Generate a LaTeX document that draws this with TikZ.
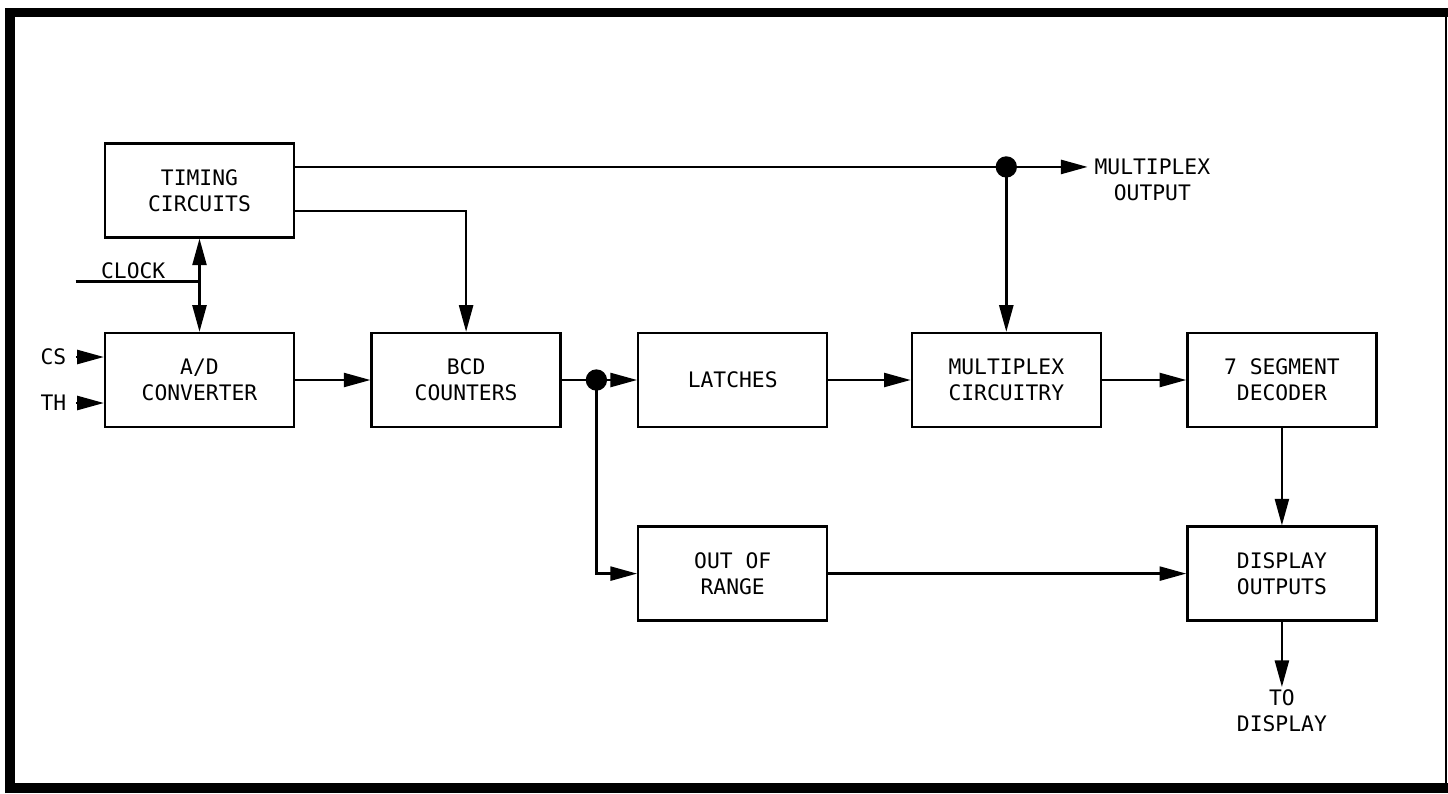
\documentclass[tikz,border=0pt]{standalone}
\usepackage{fontspec}
\newfontfamily\blokfont{DejaVu Sans Mono}
\usetikzlibrary{positioning,arrows.meta,calc}

\begin{document}
\begin{tikzpicture}[
  x=0.75pt, y=-0.75pt,
  font=\blokfont\fontsize{16}{19.5}\selectfont,
  node distance=70pt and 58pt,
  blok/.style={rectangle, draw, line width=1.7pt, minimum width=141.75pt, minimum height=70.5pt, align=center, inner sep=2pt},
  etiq/.style={inner sep=2pt, align=center},
  punto/.style={circle, fill, inner sep=0pt, minimum size=16pt},
  linea/.style={line width=1.8pt},
  flecha/.style={-{Triangle[length=20pt,width=10.5pt]}, line width=1.8pt},
  flechas/.style={{Triangle[length=20pt,width=10.5pt]}-{Triangle[length=20pt,width=10.5pt]}, line width=1.8pt}
]
\useasboundingbox (0,0) rectangle (1448,793);
% marco
\draw[line width=7.5pt] (10,793) -- (10,8);
\draw[line width=7pt] (5,12.5) -- (1448,12.5);
\draw[line width=7.5pt] (5,788) -- (1448,788);
\draw[line width=2.2pt] (1446,8) -- (1446,793);
% bloques
\node[blok] (adc) at (199.5,380) {A/D\\CONVERTER};
\node[blok, above=of adc] (tim) {TIMING\\CIRCUITS};
\node[blok, right=56.5pt of adc] (bcd) {BCD\\COUNTERS};
\node[blok, right=56.5pt of bcd] (latch) {LATCHES};
\node[blok, right=61.75pt of latch] (mux) {MULTIPLEX\\CIRCUITRY};
\node[blok, right=63.25pt of mux] (seg) {7 SEGMENT\\DECODER};
\node[blok, below=73pt of latch] (oor) {OUT OF\\RANGE};
\node[blok, below=73pt of seg] (disp) {DISPLAY\\OUTPUTS};
% puntos de union
\coordinate[right=26pt of bcd] (jn1);
\coordinate (t1) at ([yshift=17.6pt]tim.east);
\coordinate (t2) at ([yshift=-15.4pt]tim.east);
\coordinate (jn2) at (t1 -| mux.north);
\coordinate (clk) at ($(tim.south)!0.46!(adc.north)$);
\coordinate[left=93pt of clk] (clkin);
% etiquetas
\node[etiq, anchor=north west, inner xsep=5pt] (mpxout) at ([xshift=61pt,yshift=8pt]jn2) {MULTIPLEX\\OUTPUT};
\node[etiq, below=49pt of disp] (todisp) {TO\\DISPLAY};
\node[etiq, anchor=south west] (clklbl) at ([xshift=17pt,yshift=-0.5pt]clkin) {CLOCK};
\node[etiq, anchor=east, inner xsep=7pt] (cs) at ([xshift=-21pt,yshift=17.25pt]adc.west) {CS};
\node[etiq, anchor=east, inner xsep=7pt] (th) at ([xshift=-21pt,yshift=-17.25pt]adc.west) {TH};
% conexiones
\draw[linea] (t1) -- (jn2);
\draw[flecha] (jn2) -- (jn2 -| mpxout.west);
\draw[flecha] (jn2) -- (mux);
\draw[flecha] (t2) -| (bcd);
\draw[flechas] (tim) -- (adc);
\draw[linea] (clkin) -- (clk);
\draw[flecha] (cs.east) -- (cs.east -| adc.west);
\draw[flecha] (th.east) -- (th.east -| adc.west);
\draw[flecha] (adc) -- (bcd);
\draw[linea] (bcd) -- (jn1);
\draw[flecha] (jn1) -- (latch);
\draw[flecha] (jn1) |- (oor);
\draw[flecha] (latch) -- (mux);
\draw[flecha] (mux) -- (seg);
\draw[flecha] (seg) -- (disp);
\draw[flecha] (oor) -- (disp);
\draw[flecha] (disp) -- (todisp);
\node[punto] at (jn1) {};
\node[punto] at (jn2) {};
\end{tikzpicture}
\end{document}
